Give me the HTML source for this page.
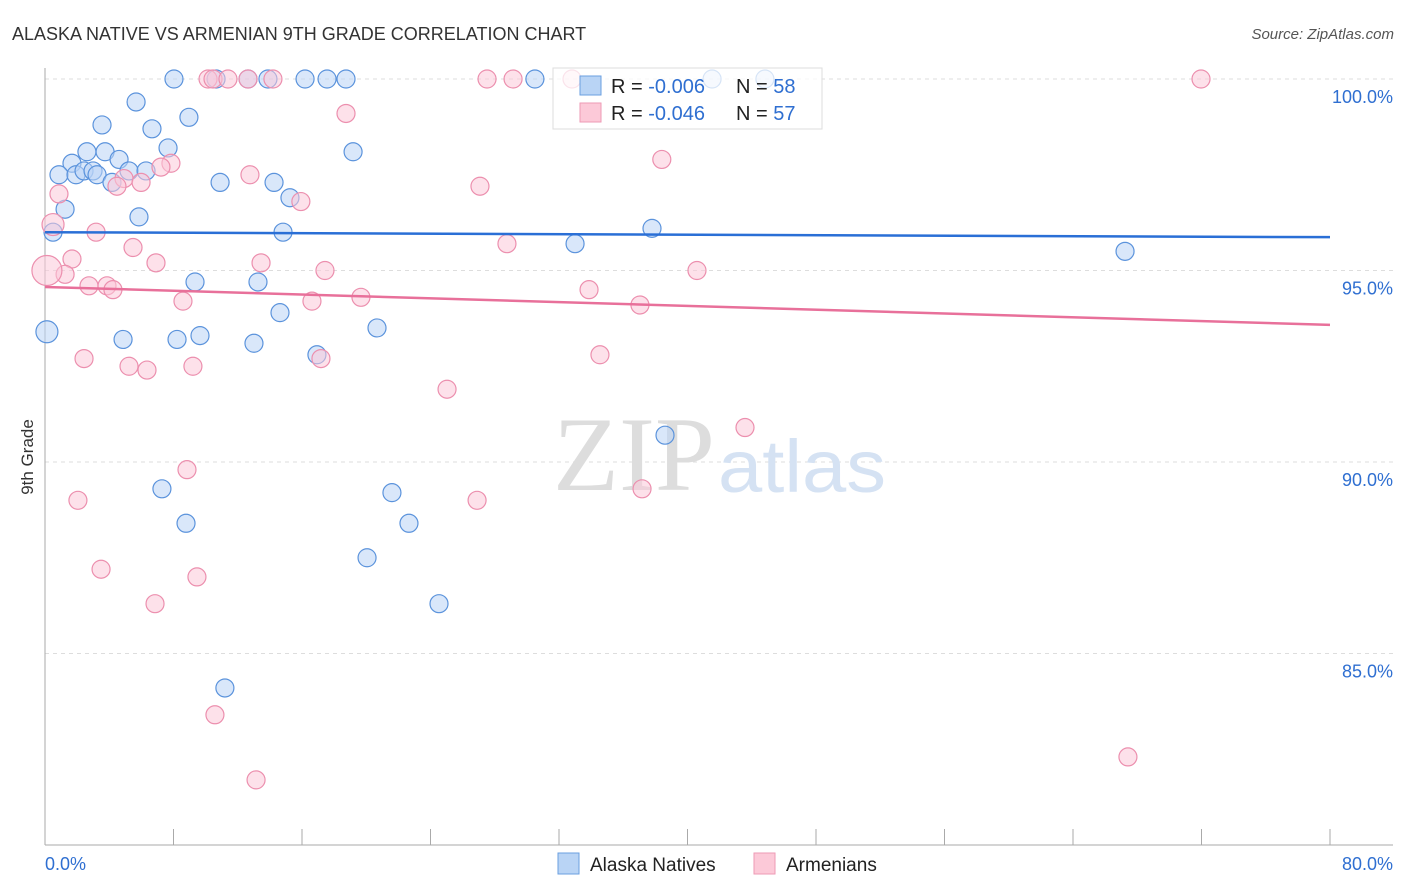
<!DOCTYPE html>
<html><head><meta charset="utf-8"><style>
body{margin:0;background:#fff;font-family:"Liberation Sans",sans-serif}
svg{display:block}
</style></head><body>
<svg id="chart" width="1406" height="892">
<text x="12" y="40" font-size="18" fill="#333">ALASKA NATIVE VS ARMENIAN 9TH GRADE CORRELATION CHART</text>
<text x="1394" y="39" font-size="15" fill="#555" text-anchor="end" font-style="italic">Source: ZipAtlas.com</text>
<text x="33" y="457" font-size="17" fill="#333" transform="rotate(-90 33 457)" text-anchor="middle">9th Grade</text>
<g id="grid"></g><g id="ticks"></g>
<text x="553" y="490" font-size="106" font-family="Liberation Serif,serif" fill="#ddd" textLength="162" lengthAdjust="spacingAndGlyphs">ZIP</text>
<text x="718" y="492" font-size="74" fill="#d5e2f3" textLength="168" lengthAdjust="spacingAndGlyphs">atlas</text>
<g id="pts"></g><g id="lines"></g>
<g>
<rect x="553" y="68" width="269" height="61" fill="#fff" fill-opacity="0.75" stroke="#ddd"/>
<rect x="580" y="76" width="21" height="19" fill="#b9d4f5" stroke="#6a9fe0"/>
<rect x="580" y="103" width="21" height="19" fill="#fcc9d8" stroke="#ee9ab5"/>
<text x="611" y="93" font-size="20" fill="#222">R = <tspan fill="#2f6fd1">-0.006</tspan><tspan x="736">N = </tspan><tspan fill="#2f6fd1">58</tspan></text>
<text x="611" y="120" font-size="20" fill="#222">R = <tspan fill="#2f6fd1">-0.046</tspan><tspan x="736">N = </tspan><tspan fill="#2f6fd1">57</tspan></text>
</g>
<g>
<rect x="558" y="853" width="21" height="21" fill="#b9d4f5" stroke="#6a9fe0"/>
<text x="590" y="871" font-size="19" fill="#222">Alaska Natives</text>
<rect x="754" y="853" width="21" height="21" fill="#fcc9d8" stroke="#ee9ab5"/>
<text x="786" y="871" font-size="19" fill="#222">Armenians</text>
</g>
</svg>
<script>
const blueX=[8.03,10.65,12.64,13.88,16.19,17.56,18.74,30.5,41.53,44.82,5.67,8.96,3.55,6.66,7.66,19.18,2.61,3.74,1.68,4.61,0.87,1.93,2.43,2.99,3.24,5.23,6.29,4.17,10.9,14.26,15.25,1.25,5.85,14.82,0.5,33,37.79,67.24,9.34,13.26,14.63,20.67,0.12,4.86,8.22,9.65,13.01,16.93,38.6,7.28,21.6,8.78,22.66,20.05,24.53,11.2];
const blueY=[100,100,100,100,100,100,100,100,100,100,99.4,99,98.8,98.7,98.2,98.1,98.1,98.1,97.8,97.9,97.5,97.5,97.6,97.6,97.5,97.6,97.6,97.3,97.3,97.3,96.9,96.6,96.4,96,96,95.7,96.1,95.5,94.7,94.7,93.9,93.5,93.4,93.2,93.2,93.3,93.1,92.8,90.7,89.3,89.2,88.4,88.4,87.5,86.3,84.1];
const blueR=[9,9,9,9,9,9,9,9,9,9,9,9,9,9,9,9,9,9,9,9,9,9,9,9,9,9,9,9,9,9,9,9,9,9,9,9,9,9,9,9,9,9,11,9,9,9,9,9,9,9,9,9,9,9,9,9];
const pinkX=[10.15,10.46,11.39,12.64,14.19,27.52,29.14,32.81,71.97,18.74,38.4,7.84,7.22,12.76,4.92,5.98,4.48,27.08,15.93,0.87,0.5,3.18,5.48,28.76,13.45,6.91,1.68,17.43,40.59,1.25,0.12,2.74,3.86,4.23,33.87,8.59,16.62,19.67,37.04,2.43,17.18,34.55,5.23,6.35,9.21,25.03,43.58,8.84,2.05,26.9,37.17,3.49,9.46,6.85,10.58,13.14,67.42];
const pinkY=[100,100,100,100,100,100,100,100,100,99.1,97.9,97.8,97.7,97.5,97.4,97.3,97.2,97.2,96.8,97,96.2,96,95.6,95.7,95.2,95.2,95.3,95,95,94.9,95,94.6,94.6,94.5,94.5,94.2,94.2,94.3,94.1,92.7,92.7,92.8,92.5,92.4,92.5,91.9,90.9,89.8,89,89,89.3,87.2,87,86.3,83.4,81.7,82.3];
const pinkR=[9,9,9,9,9,9,9,9,9,9,9,9,9,9,9,9,9,9,9,9,11,9,9,9,9,9,9,9,9,9,15,9,9,9,9,9,9,9,9,9,9,9,9,9,9,9,9,9,9,9,9,9,9,9,9,9,9];
const blueFit=[96.0,95.87];const pinkFit=[94.57,93.58];
const yTicks=[100,95,90,85];const xTicks=[0,10,20,30,40,50,60,70,80,90,100];
const X=v=>45+v/80*1285, Y=v=>79+(100-v)*38.3;
const NS='http://www.w3.org/2000/svg';
function mk(t,a,p){const e=document.createElementNS(NS,t);for(const k in a)e.setAttribute(k,a[k]);document.getElementById(p).appendChild(e);return e;}
yTicks.forEach(t=>{const l=mk('line',{x1:45,x2:1393,y1:Y(t),y2:Y(t),stroke:'#ddd','stroke-dasharray':'4 4'},'grid');


const tx=mk('text',{x:1393,y:Y(t)+24,'font-size':18,fill:'#2f6fd1','text-anchor':'end'},'ticks');tx.textContent=t.toFixed(1)+'%';

});
const ax=mk('line',{x1:45,x2:45,y1:68,y2:845,stroke:'#aaa'},'grid');


const bx=mk('line',{x1:45,x2:1393,y1:845,y2:845,stroke:'#aaa'},'grid');


xTicks.forEach(p=>{const v=p*0.8;const t=mk('line',{x1:X(v),x2:X(v),y1:829,y2:845,stroke:'#aaa'},'grid');

});
[[0,'0.0%','start',45],[80,'80.0%','end',1393]].forEach(d=>{const t=mk('text',{x:d[3],y:870,'font-size':18,fill:'#2f6fd1','text-anchor':d[2]},'ticks');t.textContent=d[1];

});
function pts(xs,ys,rs,f,s,n){xs.forEach((x,i)=>{const c=mk('circle',{cx:X(x),cy:Y(ys[i]),r:rs[i],fill:f,'fill-opacity':0.55,stroke:s,'stroke-width':1.2},'pts');

});}
pts(blueX,blueY,blueR,'#b9d4f5','#5b93dc','alaska-native-point');
pts(pinkX,pinkY,pinkR,'#fcc9d8','#ec8fae','armenian-point');
const bl=mk('line',{x1:X(0),x2:X(80),y1:Y(blueFit[0]),y2:Y(blueFit[1]),stroke:'#2a6fd6','stroke-width':2.5},'lines');


const pl=mk('line',{x1:X(0),x2:X(80),y1:Y(pinkFit[0]),y2:Y(pinkFit[1]),stroke:'#e8709a','stroke-width':2.5},'lines');


</script>
</body></html>
